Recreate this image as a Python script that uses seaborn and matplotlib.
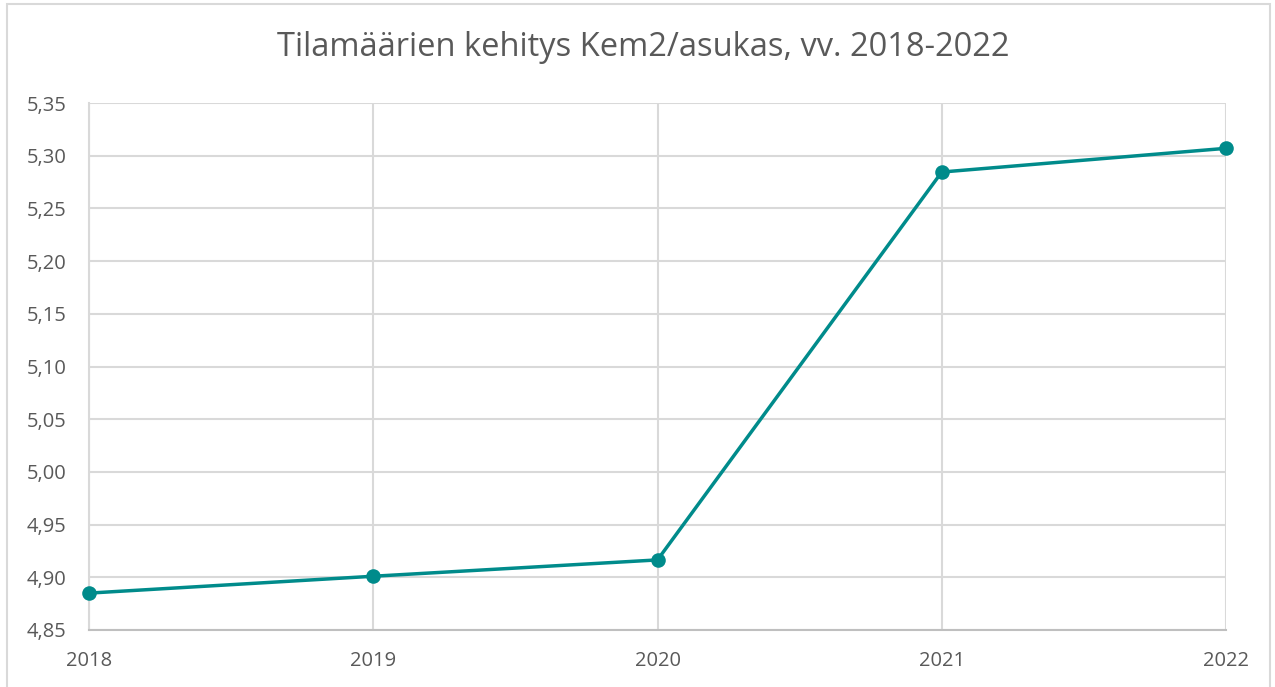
import matplotlib
matplotlib.use("Agg")
import matplotlib.pyplot as plt
from matplotlib.patches import Rectangle
import seaborn as sns
import pandas as pd

years = [2018, 2019, 2020, 2021, 2022]
values = [4.885, 4.901, 4.9165, 5.2845, 5.307]
y_ticks = [4.85, 4.90, 4.95, 5.00, 5.05, 5.10, 5.15, 5.20, 5.25, 5.30, 5.35]
title = "Tilamäärien kehitys Kem2/asukas, vv. 2018-2022"

sns.set_theme(style="white")
plt.rcParams["font.family"] = ["Open Sans", "DejaVu Sans"]

text_color = "#595959"
grid_color = "#d9d9d9"
line_color = "#008b8b"

df = pd.DataFrame({"Vuosi": years, "Kem2/asukas": values})

fig = plt.figure(figsize=(12.75, 6.87), dpi=100)
ax = fig.add_axes([89 / 1275, 57 / 687, (1226 - 89) / 1275, (630 - 103) / 687])

sns.lineplot(data=df, x="Vuosi", y="Kem2/asukas", ax=ax, color=line_color,
             linewidth=2.5, marker="o", markersize=10.5, markeredgewidth=0,
             clip_on=False, zorder=5)

ax.set_xlim(years[0], years[-1])
ax.set_ylim(y_ticks[0], y_ticks[-1])
ax.set_xticks(years)
ax.set_xticklabels([str(y) for y in years])
ax.set_yticks(y_ticks)
ax.set_yticklabels([f"{v:.2f}".replace(".", ",") for v in y_ticks])
ax.tick_params(axis="both", length=0, labelsize=14.5, colors=text_color)
ax.tick_params(axis="x", pad=15)
ax.tick_params(axis="y", pad=16)
ax.set_xlabel("")
ax.set_ylabel("")

ax.grid(True, color=grid_color, linewidth=1.5)
ax.set_axisbelow(True)
for side in ["top", "right"]:
    ax.spines[side].set_visible(False)
ax.spines["left"].set_color(grid_color)
ax.spines["left"].set_linewidth(1.5)
ax.spines["bottom"].set_color("#bfbfbf")
ax.spines["bottom"].set_linewidth(1.5)

fig.text(643 / 1275, 1 - 47 / 687, title, ha="center", va="center",
         fontsize=23.5, color=text_color)

# outer chart frame
fig.patches.append(Rectangle((7 / 1275, -0.01), (1270 - 7) / 1275, 1 - 4 / 687 + 0.01,
                             transform=fig.transFigure, fill=False,
                             edgecolor=grid_color, linewidth=1.5))

fig.savefig("out.png", dpi=100)
